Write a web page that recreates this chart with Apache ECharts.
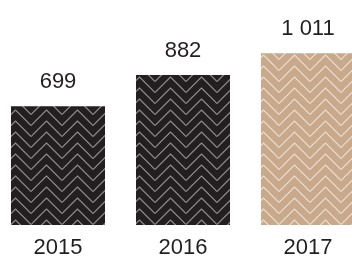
<!DOCTYPE html>
<html>
<head>
<meta charset="utf-8">
<script src="https://cdn.jsdelivr.net/npm/echarts@6/dist/echarts.min.js"></script>
<style>
  html, body { margin: 0; padding: 0; background: #ffffff; }
  #chart { width: 352px; height: 258px; }
</style>
</head>
<body>
<div id="chart"></div>
<script>
const years = ['2015', '2016', '2017'];
const values = [699, 882, 1011];
const barFills = ['dark', 'dark', 'tan'];

// zigzag (chevron) pattern tile drawn on a small canvas
function chevronTile(bg, stroke) {
  const w = 31, h = 11;
  const c = document.createElement('canvas');
  c.width = w;
  c.height = h;
  const ctx = c.getContext('2d');
  ctx.fillStyle = bg;
  ctx.fillRect(0, 0, w, h);
  ctx.strokeStyle = stroke;
  ctx.lineWidth = 1.2;
  for (let k = -3; k <= 2; k++) {
    const y0 = k * h;
    ctx.beginPath();
    ctx.moveTo(0, y0 + w / 2);
    ctx.lineTo(w / 2, y0);
    ctx.lineTo(w, y0 + w / 2);
    ctx.stroke();
  }
  return { image: c, repeat: 'repeat' };
}

const fills = {
  dark: chevronTile('#231f20', '#8c8a8a'),
  tan: chevronTile('#c8a98b', '#eadbcb'),
};

const fmt = (v) => String(v).replace(/\B(?=(\d{3})+(?!\d))/g, ' ');

const chart = echarts.init(document.getElementById('chart'));
chart.setOption({
  animation: false,
  backgroundColor: '#ffffff',
  textStyle: { fontFamily: 'Liberation Sans' },
  grid: { left: -4.5, right: -18.5, top: 21, bottom: 33, outerBoundsMode: 'none', containLabel: false },
  xAxis: {
    type: 'category',
    data: years,
    axisLine: { show: false },
    axisTick: { show: false },
    axisLabel: { color: '#231f20', fontSize: 22, margin: 12, fontFamily: 'Liberation Sans' },
  },
  yAxis: {
    type: 'value',
    min: 0,
    max: 1200,
    show: false,
    splitLine: { show: false },
  },
  series: [{
    type: 'bar',
    barWidth: 94,
    data: values.map((v, i) => ({ value: v, itemStyle: { color: fills[barFills[i]] } })),
    label: {
      show: true,
      position: 'top',
      distance: 13,
      color: '#231f20',
      fontSize: 22,
      fontFamily: 'Liberation Sans',
      formatter: (p) => fmt(p.value),
    },
  }],
});
</script>
</body>
</html>
